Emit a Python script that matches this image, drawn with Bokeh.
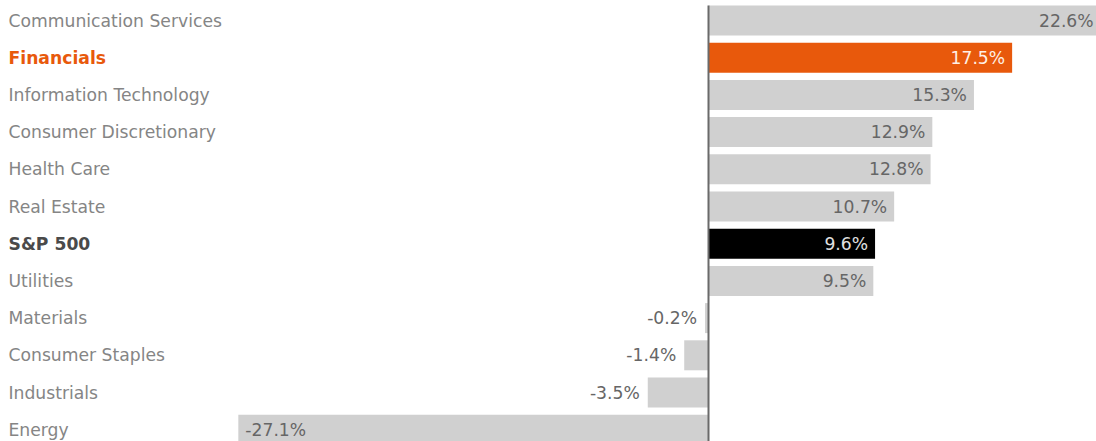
from bokeh.plotting import figure
from bokeh.models import ColumnDataSource, Range1d
from bokeh.embed import file_html
from bokeh.resources import INLINE
from bokeh.core.properties import value

categories = ["Communication Services", "Financials", "Information Technology",
              "Consumer Discretionary", "Health Care", "Real Estate", "S&P 500",
              "Utilities", "Materials", "Consumer Staples", "Industrials", "Energy"]
values = [22.6, 17.5, 15.3, 12.9, 12.8, 10.7, 9.6, 9.5, -0.2, -1.4, -3.5, -27.1]
labels = ["22.6%", "17.5%", "15.3%", "12.9%", "12.8%", "10.7%", "9.6%", "9.5%",
          "-0.2%", "-1.4%", "-3.5%", "-27.1%"]

GRAY = "#d0d0d0"
ORANGE = "#e8590c"
BLACK = "#000000"
FONT = "DejaVu Sans"
FS = "17.2px"

W, H = 1096, 441
PX_PER = 17.35
ROW = 37.2
BAR_H = 30 / ROW
x0 = -708 / PX_PER
xr = Range1d(x0, x0 + W / PX_PER)
top = -20 / ROW
yr = Range1d(top + H / ROW, top)

ys = list(range(len(categories)))
bar_colors, cat_colors, cat_styles, val_colors = [], [], [], []
for c in categories:
    if c == "Financials":
        bar_colors.append(ORANGE); cat_colors.append(ORANGE); cat_styles.append("bold"); val_colors.append("#fff0e6")
    elif c == "S&P 500":
        bar_colors.append(BLACK); cat_colors.append("#4a4a4a"); cat_styles.append("bold"); val_colors.append("#e0e0e0")
    else:
        bar_colors.append(GRAY); cat_colors.append("#858585"); cat_styles.append("normal"); val_colors.append("#666666")

val_align, val_off = [], []
for v in values:
    if v >= 0:
        val_align.append("right"); val_off.append(-7)
    elif abs(v) * PX_PER > 120:
        val_align.append("left"); val_off.append(7)
    else:
        val_align.append("right"); val_off.append(-8)

src = ColumnDataSource(dict(y=ys, v=values, cat=categories, lab=labels,
                            bc=bar_colors, cc=cat_colors, cs=cat_styles,
                            vc=val_colors, va=val_align, vo=val_off,
                            lx=[x0] * len(categories)))

p = figure(width=W, height=H, x_range=xr, y_range=yr, output_backend="svg",
           toolbar_location=None, min_border=0, outline_line_color=None,
           background_fill_color="white", border_fill_color="white")
p.axis.visible = False
p.grid.visible = False

p.hbar(y="y", left=0, right="v", height=BAR_H, fill_color="bc", line_color=None, source=src)
# zero line from the top of the first bar down to the bottom of the chart
p.segment(x0=[0], y0=[ys[0] - BAR_H / 2], x1=[0], y1=[yr.start],
          line_color="#6a6a6a", line_width=2)

p.text(x="lx", y="y", text="cat", text_color="cc", text_font_style="cs",
       x_offset=8, text_font=value(FONT), text_font_size=FS, text_baseline="middle",
       text_align="left", source=src)
p.text(x="v", y="y", text="lab", text_color="vc", x_offset="vo", text_align="va",
       text_font=value(FONT), text_font_size=FS, text_baseline="middle",
       source=src)

open("out.html", "w").write(file_html(p, INLINE))
